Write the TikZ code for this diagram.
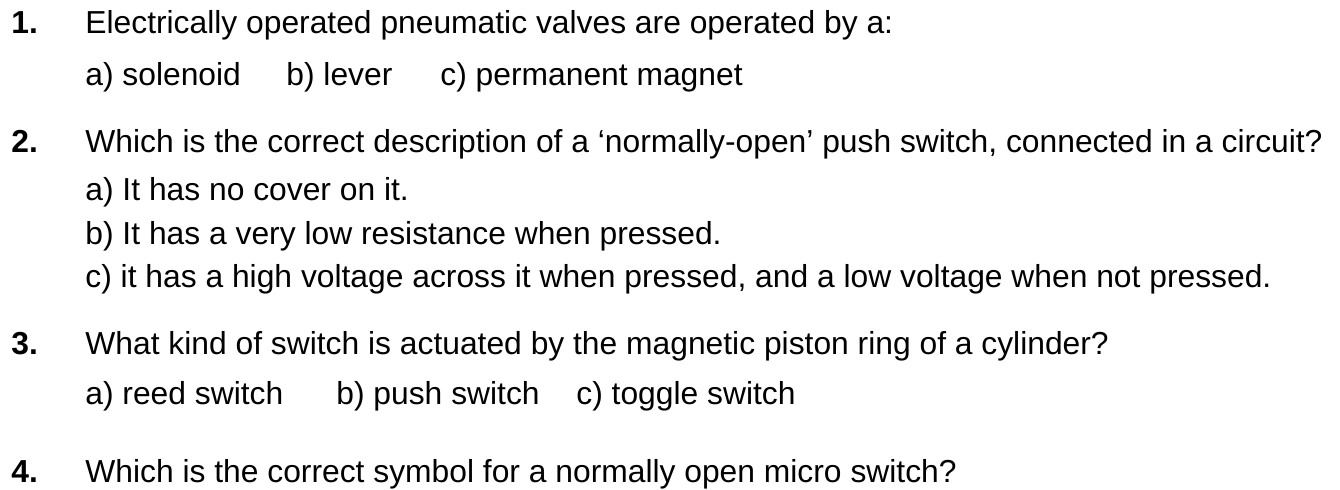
\documentclass[tikz,border=0pt]{standalone}
\usepackage{fontspec}
\setmainfont{Liberation Sans}
\begin{document}
\begin{tikzpicture}[x=0.5pt,y=-0.5pt,
  txt/.style={anchor=base west,inner sep=0pt,font=\fontsize{15.9pt}{19pt}\selectfont},
  num/.style={anchor=base west,inner sep=0pt,font=\fontsize{15.9pt}{19pt}\selectfont\bfseries}]
\useasboundingbox (0,0) rectangle (1340,490);
% Question 1
\node[num] (n1) at (11,34) {1.};
\node[txt] (q1) at (85,34) {Electrically operated pneumatic valves are operated by a:};
\node[txt] (q1a) at (85,86) {a) solenoid};
\node[txt] (q1b) at (286,86) {b) lever};
\node[txt] (q1c) at (440,86) {c) permanent magnet};
% Question 2
\node[num] (n2) at (11,153) {2.};
\node[txt] (q2) at (85,153) {Which is the correct description of a ‘normally-open’ push switch, connected in a circuit?};
\node[txt] (q2a) at (85,201) {a) It has no cover on it.};
\node[txt] (q2b) at (85,245) {b) It has a very low resistance when pressed.};
\node[txt] (q2c) at (85,288) {c) it has a high voltage across it when pressed, and a low voltage when not pressed.};
% Question 3
\node[num] (n3) at (11,355) {3.};
\node[txt] (q3) at (85,355) {What kind of switch is actuated by the magnetic piston ring of a cylinder?};
\node[txt] (q3a) at (85,405) {a) reed switch};
\node[txt] (q3b) at (336,405) {b) push switch};
\node[txt] (q3c) at (576,405) {c) toggle switch};
% Question 4
\node[num] (n4) at (11,483) {4.};
\node[txt] (q4) at (85,483) {Which is the correct symbol for a normally open micro switch?};
\end{tikzpicture}
\end{document}
